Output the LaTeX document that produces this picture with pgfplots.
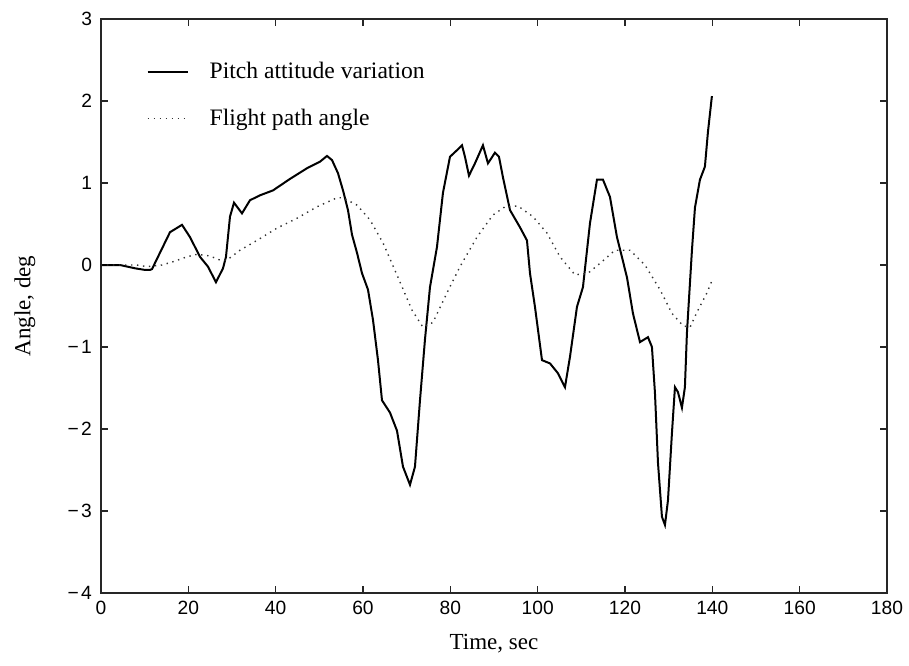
\documentclass[border=0pt]{standalone}
\usepackage{fontspec}
\setmainfont{Liberation Serif}
\newfontfamily\tickfont{Liberation Sans}
\usepackage{pgfplots}
\pgfplotsset{compat=1.18}
\begin{document}
\begin{tikzpicture}
\begin{axis}[
  scale only axis,
  width=393pt, height=287pt,
  xmin=0, xmax=180, ymin=-4, ymax=3,
  xtick={0,20,...,180}, ytick={-4,-3,...,3},
  yticklabels={−\kern1.2pt4,−\kern1.2pt3,−\kern1.2pt2,−\kern1.2pt1,0,1,2,3},
  tick align=inside, major tick length=3.5pt,
  axis line style={line width=0.8pt, black!85},
  every tick/.style={line width=0.8pt, black!85},
  /pgf/number format/assume math mode=true,
  tick label style={font=\tickfont\fontsize{9.6pt}{10pt}\selectfont},
  xticklabel style={yshift=-0.5pt},
  yticklabel style={xshift=-1pt},
  label style={font=\fontsize{11.5pt}{13pt}\selectfont},
  xlabel={Time, sec},
  ylabel={Angle, deg},
  xlabel style={at={(rel axis cs:0.5,0)}, anchor=center, yshift=-25.5pt},
  ylabel style={at={([xshift=-38pt]rel axis cs:0,0.5)}, anchor=center},
  legend cell align=left,
  legend style={draw=none, fill=none, at={(0.05,0.937)}, anchor=north west,
    font=\fontsize{11.8pt}{14pt}\selectfont, row sep=10.5pt,
    nodes={inner sep=1.5pt}},
  legend image code/.code={\draw[#1] (0pt,0pt) -- (20pt,0pt);},
]
\addplot[black, line width=1pt] coordinates {
(0,0) (4.35,0) (7.79,-0.04) (10.08,-0.06) (11.22,-0.06) (11.68,-0.05)
(13.51,0.15) (15.80,0.40) (18.55,0.49) (20.38,0.34) (22.67,0.10)
(24.50,-0.02) (26.33,-0.21) (27.94,-0.04) (28.62,0.10) (29.54,0.59)
(30.46,0.76) (32.29,0.63) (34.12,0.79) (36.41,0.85) (39.39,0.91)
(43.28,1.05) (47.17,1.18) (50.15,1.26) (51.75,1.33) (52.90,1.28)
(54.27,1.12) (55.42,0.91) (56.56,0.67) (57.48,0.37) (58.62,0.15)
(59.77,-0.10) (61.14,-0.30) (62.29,-0.67) (63.43,-1.16) (64.35,-1.65)
(66.18,-1.80) (67.78,-2.02) (69.16,-2.46) (70.76,-2.68) (71.90,-2.46)
(73.05,-1.65) (74.19,-0.91) (75.34,-0.27) (76.94,0.22) (78.31,0.88)
(79.92,1.32) (81.52,1.40) (82.67,1.46) (83.35,1.32) (84.27,1.09)
(85.64,1.24) (87.47,1.46) (88.62,1.24) (90.22,1.37) (91.14,1.32)
(92.05,1.07) (93.66,0.67) (95.95,0.46) (97.55,0.30) (98.24,-0.10)
(99.38,-0.51) (100.99,-1.16) (102.82,-1.20) (104.65,-1.32) (106.25,-1.49)
(107.40,-1.12) (109.00,-0.51) (110.37,-0.27) (111.98,0.51) (113.58,1.04)
(114.96,1.04) (116.56,0.83) (118.16,0.34) (120.45,-0.15) (121.82,-0.59)
(123.43,-0.94) (125.26,-0.88) (126.17,-1.00) (126.86,-1.56) (127.55,-2.41)
(128.46,-3.07) (129.15,-3.17) (129.84,-2.87) (130.75,-2.05) (131.44,-1.49)
(132.13,-1.55) (133.04,-1.74) (133.72,-1.49) (134.18,-0.83) (135.33,0.18)
(136.02,0.70) (137.16,1.04) (138.30,1.20) (138.99,1.62) (139.90,2.06)
};
\addlegendentry{\hspace*{9pt}Pitch attitude variation}
\addplot[black!80, line width=0.7pt, dash pattern=on 0.7pt off 2.3pt] coordinates {
(0,0) (8.24,0) (10.53,-0.02) (13.97,0) (16.49,0.04) (19.69,0.10)
(21.98,0.13) (24.96,0.11) (27.25,0.06) (28.85,0.06) (31.83,0.18)
(35.72,0.30) (40.30,0.45) (44.88,0.57) (49.46,0.71) (54.04,0.82)
(55.42,0.82) (58.62,0.73) (61.60,0.55) (64.58,0.27) (68.01,-0.15)
(71.22,-0.55) (73.74,-0.76) (76.02,-0.70) (79.23,-0.34) (82.21,-0.02)
(86.10,0.34) (89.76,0.61) (92.51,0.71) (95.49,0.72) (98.92,0.59)
(102.13,0.39) (105.11,0.10) (108.54,-0.12) (111.52,-0.10) (114.27,0.02)
(117.70,0.18) (121.14,0.18) (124.57,0.00) (128.01,-0.30) (130.76,-0.59)
(133.27,-0.74) (134.88,-0.76) (136.71,-0.55) (138.77,-0.34) (140.14,-0.16)
};
\addlegendentry{\hspace*{9pt}Flight path angle}
\end{axis}
\pgfresetboundingbox
\path[use as bounding box] (-50.5pt,-36pt) rectangle (404pt,296.5pt);
\end{tikzpicture}
\end{document}
